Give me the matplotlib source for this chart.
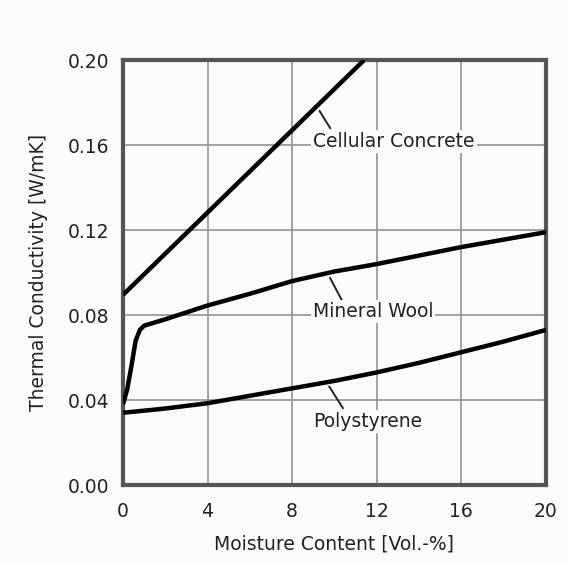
import matplotlib
matplotlib.use("Agg")
import matplotlib.pyplot as plt

# Thermal conductivity of insulating materials vs. moisture content
concrete_x = [0.0, 11.4]
concrete_y = [0.0895, 0.200]

wool_x = [0.0, 0.2, 0.4, 0.6, 0.8, 1.0, 2, 4, 6, 8, 10, 12, 14, 16, 18, 20]
wool_y = [0.038, 0.045, 0.056, 0.068, 0.073, 0.075, 0.078, 0.0845, 0.090,
          0.096, 0.1005, 0.104, 0.108, 0.112, 0.1155, 0.119]

poly_x = [0, 2, 4, 6, 8, 10, 12, 14, 16, 18, 20]
poly_y = [0.034, 0.036, 0.0385, 0.042, 0.0455, 0.049, 0.053, 0.0575,
          0.0625, 0.0675, 0.073]

x_ticks = [0, 4, 8, 12, 16, 20]
y_ticks = [0.00, 0.04, 0.08, 0.12, 0.16, 0.20]

# label text, leader start, leader end, text anchor
labels = [
    ("Cellular Concrete", (9.3, 0.176), (9.8, 0.168), (9.0, 0.1615)),
    ("Mineral Wool", (9.8, 0.0974), (10.35, 0.087), (8.97, 0.0816)),
    ("Polystyrene", (9.76, 0.0463), (10.4, 0.0362), (8.97, 0.0298)),
]

plt.rcParams['font.family'] = ['DejaVu Sans']
fs = 13.5
bg = '#fbfbfb'
fig = plt.figure(figsize=(5.68, 5.62), dpi=100, facecolor=bg)
ax = fig.add_axes([0.2165, 0.137, 0.7445, 0.756], facecolor=bg)

ax.set_xlim(0, 20)
ax.set_ylim(0, 0.20)
ax.set_xticks(x_ticks)
ax.set_yticks(y_ticks)
ax.set_xticklabels([str(v) for v in x_ticks])
ax.set_yticklabels([f"{v:.2f}" for v in y_ticks])
ax.tick_params(length=0, labelsize=fs, colors='#222222')
ax.tick_params(axis='x', pad=12)
ax.tick_params(axis='y', pad=10)
ax.grid(True, color='#9a9a9a', linewidth=1.3)
ax.set_axisbelow(True)
for s in ax.spines.values():
    s.set_color('#555555')
    s.set_linewidth(3.0)

for xs, ys in [(concrete_x, concrete_y), (wool_x, wool_y), (poly_x, poly_y)]:
    ax.plot(xs, ys, color='black', linewidth=3.2, solid_capstyle='butt',
            solid_joinstyle='round', clip_on=True, zorder=3)

for text, p0, p1, pt in labels:
    ax.plot([p0[0], p1[0]], [p0[1], p1[1]], color='#222222', linewidth=1.4, zorder=3)
    ax.text(pt[0], pt[1], text, fontsize=fs, color='#222222', ha='left', va='center',
            zorder=4, bbox=dict(facecolor=bg, edgecolor='none', pad=1.5))

ax.set_xlabel("Moisture Content [Vol.-%]", fontsize=fs, color='#222222', labelpad=10)
ax.set_ylabel("Thermal Conductivity [W/mK]", fontsize=fs, color='#222222', labelpad=14)

fig.savefig("out.png", dpi=100, facecolor=bg)
